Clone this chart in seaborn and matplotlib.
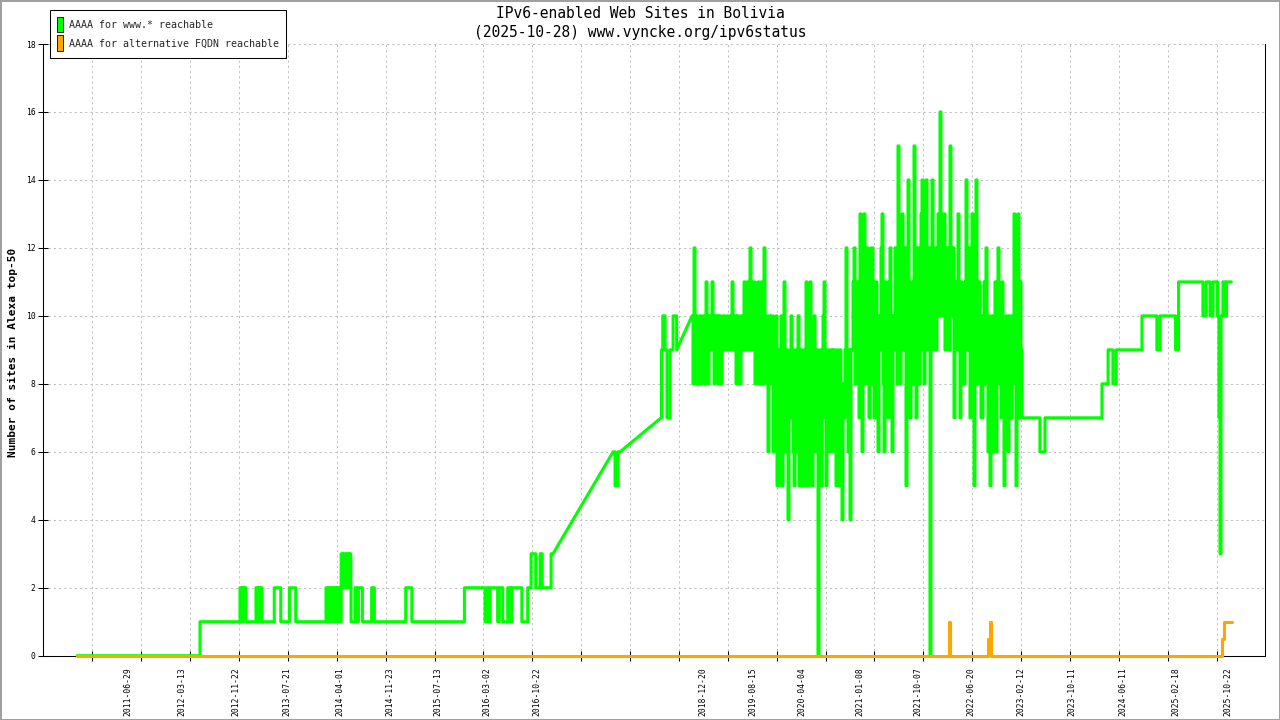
import numpy as np
import pandas as pd
import matplotlib
matplotlib.use("Agg")
import matplotlib.pyplot as plt
from matplotlib.patches import Patch
import seaborn as sns

# ---- data (x = days since BASE, y = number of sites) ----
BASE = pd.Timestamp("2011-06-29")

# www.* reachable, first period (step data)
www_p1_days = [-242, 342, 532, 540, 543, 550, 551, 560, 608, 615, 618, 624, 627, 636,
               695, 726, 767, 797, 941, 949, 954, 964, 968, 978, 983, 992, 997, 1008,
               1013, 1021, 1025, 1033, 1040, 1047, 1052, 1059, 1060, 1079, 1087, 1095,
               1114, 1158, 1171, 1320, 1349, 1599, 1697, 1707, 1713, 1721, 1757, 1765,
               1781, 1805, 1817, 1824, 1872, 1900, 1916, 1938, 1959, 1969, 2011, 2020]
www_p1_vals = [0, 1, 2, 1, 2, 1, 2, 1, 2, 1, 2, 1, 2, 1,
               2, 1, 2, 1, 2, 1, 2, 1, 2, 1, 2, 1, 2, 1,
               3, 2, 3, 2, 3, 2, 3, 2, 1, 2, 1, 2,
               1, 2, 1, 2, 1, 2, 1, 2, 1, 2, 1, 2,
               1, 2, 1, 2, 1, 2, 3, 2, 3, 2, 3, 3]

# second and third periods (after gaps in the measurements)
www_p2_days = [2306, 2315, 2329, 2339]
www_p2_vals = [6, 5, 6, 6]
www_p3_days = [2534, 2536, 2542, 2553, 2562, 2577, 2591, 2608]
www_p3_vals = [7, 9, 10, 9, 7, 9, 10, 9]

# dense period: two readings per ~9.5 days from day 2681 (first / second reading)
dense_start = 2681
dense_step = 9.507
www_dense_a = [
    10, 12, 10, 8, 10, 9, 10, 11, 8, 9,
    11, 8, 9, 8, 10, 9, 10, 9, 10, 9,
    11, 9, 8, 10, 8, 10, 11, 9, 11, 12,
    9, 11, 8, 11, 9, 11, 12, 10, 6, 8,
    10, 7, 10, 5, 7, 5, 11, 6, 4, 7,
    9, 5, 9, 10, 6, 5, 9, 11, 5, 11,
    5, 10, 7, 0, 9, 7, 11, 5, 9, 7,
    6, 9, 5, 8, 9, 4, 7, 12, 6, 4,
    9, 12, 8, 10, 13, 6, 13, 9, 11, 10,
    12, 7, 11, 6, 9, 13, 6, 11, 7, 12,
    6, 9, 12, 15, 8, 13, 9, 5, 14, 7,
    11, 15, 7, 12, 9, 14, 8, 14, 10, 0,
    14, 12, 9, 13, 16, 10, 13, 10, 12, 15,
    10, 7, 11, 13, 7, 10, 8, 14, 9, 7,
    13, 5, 14, 9, 10, 7, 11, 12, 6, 5,
    10, 8, 6, 12, 9, 11, 5, 10, 6, 10,
    8, 13, 5, 13, 11, 7]
www_dense_b = [
    8, 9, 8, 10, 8, 10, 8, 9, 10, 10,
    9, 10, 10, 10, 8, 10, 9, 10, 9, 10,
    9, 10, 10, 8, 10, 9, 9, 11, 9, 9,
    11, 8, 10, 8, 11, 8, 9, 8, 10, 10,
    6, 9, 5, 9, 10, 9, 6, 9, 8, 10,
    6, 9, 6, 5, 9, 8, 5, 7, 9, 6,
    9, 6, 9, 7, 5, 10, 7, 9, 6, 9,
    9, 6, 9, 5, 6, 8, 9, 8, 9, 9,
    11, 8, 11, 7, 9, 10, 8, 12, 7, 12,
    8, 11, 7, 10, 12, 8, 11, 8, 11, 8,
    10, 12, 8, 10, 12, 9, 12, 10, 9, 11,
    8, 10, 12, 8, 13, 9, 12, 9, 12, 10,
    9, 9, 12, 10, 11, 13, 9, 12, 9, 10,
    12, 10, 9, 10, 11, 8, 11, 9, 12, 10,
    9, 10, 8, 11, 7, 10, 8, 9, 10, 9,
    6, 11, 10, 8, 7, 8, 9, 7, 10, 7,
    10, 8, 10, 7, 9, 7]

# last period (step data)
www_p4_days = [4335, 4359, 4630, 4659, 4682, 4697, 4820, 4891, 4906, 4980, 4994,
               5110, 5125, 5144, 5158, 5179, 5186, 5191, 5196, 5205, 5215, 5222, 5245]
www_p4_vals = [6, 7, 8, 9, 8, 9, 10, 9, 10, 9, 11,
               10, 11, 10, 11, 10, 7, 3, 10, 11, 10, 11, 11]

# alternative FQDN reachable
alt_days = [-242, 3901, 3908, 4090, 4098, 4102, 5200, 5208, 5247]
alt_vals = [0, 1, 0, 0.5, 1, 0, 0.5, 1, 1]

label_dates = ["2011-06-29", "2012-03-13", "2012-11-22", "2013-07-21", "2014-04-01",
               "2014-11-23", "2015-07-13", "2016-03-02", "2016-10-22", "2018-12-20",
               "2019-08-15", "2020-04-04", "2021-01-08", "2021-10-07", "2022-06-20",
               "2023-02-12", "2023-10-11", "2024-06-11", "2025-02-18", "2025-10-22"]

title_lines = ["IPv6-enabled Web Sites in Bolivia",
               "(2025-10-28) www.vyncke.org/ipv6status"]
legend_labels = ["AAAA for www.* reachable", "AAAA for alternative FQDN reachable"]
green = "#00ff00"
orange = "#ffa500"


def step_path(days, vals):
    xs, ys = [days[0]], [vals[0]]
    for d, v0, v1 in zip(days[1:], vals[:-1], vals[1:]):
        xs += [d, d]
        ys += [v0, v1]
    return xs, ys


dense_days, dense_vals = [], []
for i, (a, b) in enumerate(zip(www_dense_a, www_dense_b)):
    dense_days += [dense_start + dense_step * i, dense_start + dense_step * (i + 0.5)]
    dense_vals += [a, b]

gx, gy = [], []
for d, v in [(www_p1_days, www_p1_vals), (www_p2_days, www_p2_vals),
             (www_p3_days, www_p3_vals),
             (dense_days + www_p4_days, dense_vals + www_p4_vals)]:
    xs, ys = step_path(d, v)
    gx += xs
    gy += ys
ox, oy = step_path(alt_days, alt_vals)

# ---- plot ----
sns.set_theme(style="white")
plt.rcParams["font.family"] = ["DejaVu Sans Mono", "DejaVu Sans"]

fig = plt.figure(figsize=(12.8, 7.2), dpi=100)
fig.patch.set_edgecolor("#a0a0a0")
fig.patch.set_linewidth(2)
ax = fig.add_axes([43.3 / 1280, (720 - 655.7) / 720, (1265 - 43.3) / 1280, (655.7 - 44) / 720])

sns.lineplot(x=gx, y=gy, sort=False, estimator=None, color=green, linewidth=2.2, ax=ax)
sns.lineplot(x=ox, y=oy, sort=False, estimator=None, color=orange, linewidth=2.2, ax=ax)
for ln in ax.lines:
    ln.set_clip_on(False)
    ln.set_zorder(5)

ax.set_xlim(-403, 5405)
ax.set_ylim(0, 18)
ax.set_yticks(range(0, 19, 2))

# unlabeled major ticks (with grid) and labeled date positions
major = [-170 + 232.4 * k for k in range(24)]
ax.set_xticks(major)
ax.set_xticklabels([])
label_pos = [(pd.Timestamp(s) - BASE).days for s in label_dates]
ax.set_xticks(label_pos, minor=True)
ax.set_xticklabels(label_dates, minor=True, rotation=90, fontsize=5.8)
ax.tick_params(axis="x", which="major", direction="inout", length=7.2, width=0.75,
               color="black", bottom=True)
ax.tick_params(axis="x", which="minor", length=0, pad=8.5, labelcolor="black", bottom=True)
ax.tick_params(axis="y", direction="inout", length=7.2, width=0.75, color="black",
               labelsize=5.8, labelcolor="black", pad=2, left=True)

ax.grid(True, which="major", color="#c0c0c0", linestyle=(0, (2, 3)), linewidth=0.75)
ax.set_axisbelow(True)
ax.spines["top"].set_visible(False)
for s in ["left", "right", "bottom"]:
    ax.spines[s].set_color("black")
    ax.spines[s].set_linewidth(0.75)
ax.set_xlabel("")
ax.set_ylabel("")

fig.text(0.5, 1 - 13 / 720, title_lines[0], ha="center", va="center", fontsize=10.5, color="black")
fig.text(0.5, 1 - 32 / 720, title_lines[1], ha="center", va="center", fontsize=10.5, color="black")
fig.text(13 / 1280, 1 - 352 / 720, "Number of sites in Alexa top-50", rotation=90,
         ha="center", va="center", fontsize=8, fontweight="bold", color="black")

handles = [Patch(facecolor=green, edgecolor="black", linewidth=0.6, label=legend_labels[0]),
           Patch(facecolor=orange, edgecolor="black", linewidth=0.6, label=legend_labels[1])]
leg = fig.legend(handles=handles, loc="upper left", bbox_to_anchor=(50 / 1280, 1 - 10 / 720),
                 frameon=True, fancybox=False, framealpha=1, edgecolor="black",
                 handlelength=0.6, handleheight=2.0, handletextpad=0.6, borderpad=0.7,
                 labelspacing=0.3, borderaxespad=0, prop={"size": 7.2})
leg.get_frame().set_linewidth(0.75)

fig.savefig("out.png", dpi=100)
